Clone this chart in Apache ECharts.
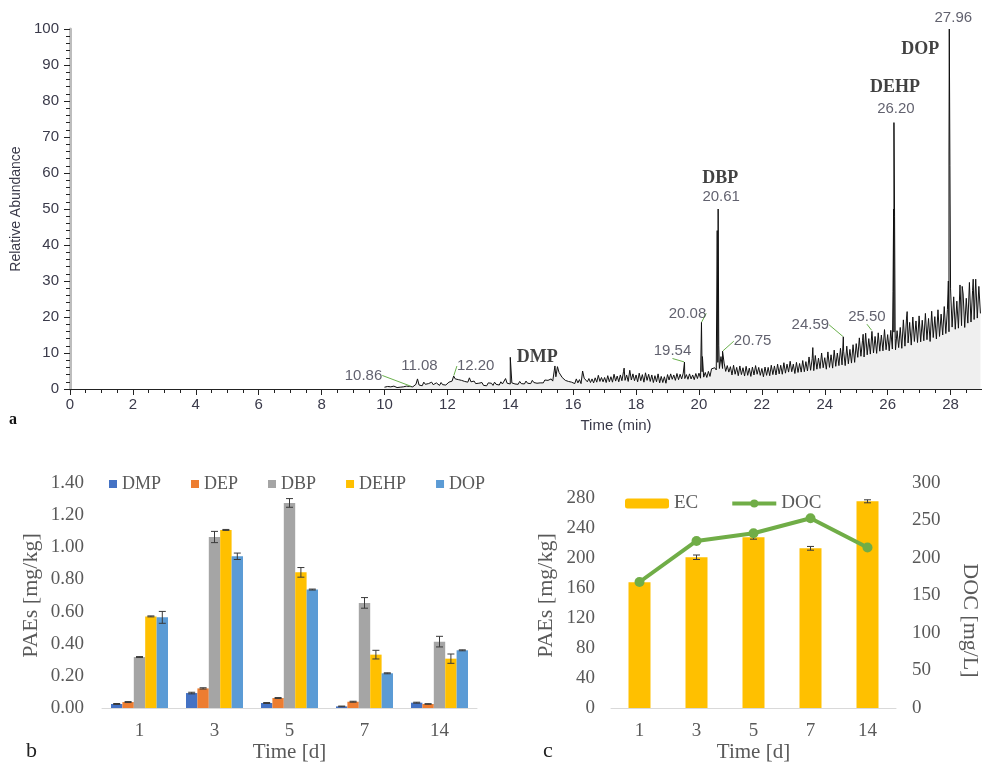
<!DOCTYPE html>
<html lang="en">
<head>
<meta charset="UTF-8">
<title>PAEs chromatogram and kinetics</title>
<script src="https://cdn.jsdelivr.net/npm/echarts@6/dist/echarts.min.js"></script>
<style>html,body{margin:0;padding:0;background:#fff;}</style>
</head>
<body>
<div id="main" style="width:982px;height:765px;"></div>
<script>
// ---- panel a : chromatogram, baseline read every 0.05 min from 10.00 min ----
var traceStart = 10
var traceStep = 0.05
var traceValues = [
  0.5,0.3,0.7,0.4,0.6,0.3,0.8,0.5,0.4,0.7,0.5,0.9,0.6,0.4,0.8,0.5,0.7,1.0,0.6,0.9,
  1.3,2.8,1.1,1.6,0.9,1.9,1.3,0.8,1.5,1.1,1.9,1.2,0.9,1.7,1.3,1.0,1.8,1.2,1.6,1.1,
  1.4,1.9,1.6,2.2,3.6,2.8,3.2,2.6,3.0,2.4,2.8,2.1,2.5,1.9,3.1,2.0,1.7,2.2,1.5,1.9,
  1.6,1.1,1.8,1.0,1.5,0.9,1.7,1.2,1.6,1.0,1.9,1.3,1.7,1.1,2.0,1.4,1.8,2.9,1.6,1.9,
  1.4,1.7,2.0,1.4,1.8,1.3,2.1,1.5,1.9,1.4,2.2,1.6,2.0,1.5,2.4,1.8,2.1,1.6,2.0,1.7,
  2.2,1.7,2.5,2.0,2.4,1.9,2.8,2.2,2.6,3.4,6.2,4.6,3.9,3.2,2.9,2.4,2.7,2.1,2.4,1.9,
  2.4,1.5,2.8,1.7,2.6,1.5,5.0,3.0,3.2,2.0,2.9,1.8,2.8,1.7,3.1,1.9,3.8,2.1,3.2,2.0,
  3.2,1.8,3.7,2.0,3.4,1.9,4.1,2.2,3.6,2.0,3.9,2.3,4.8,2.4,3.9,2.1,5.2,2.5,4.2,2.3,
  3.9,2.0,4.4,2.3,4.0,1.9,4.5,2.4,4.1,2.1,3.9,1.8,3.7,2.0,4.2,1.7,3.5,1.8,3.4,1.6,
  4.0,2.5,4.2,2.7,3.9,2.4,4.3,2.6,4.1,2.8,4.4,2.9,4.0,2.7,4.2,2.8,3.9,2.6,4.3,2.9,
  4.4,3.0,4.8,3.3,4.6,3.2,4.9,3.5,5.6,5.1,5.9,5.3,7.4,5.7,9.0,5.7,7.2,4.9,6.5,4.7,
  6.2,3.9,6.6,4.1,6.0,3.7,6.4,4.0,5.9,3.6,6.3,3.8,5.8,3.5,6.1,3.9,6.5,4.1,6.0,3.8,
  5.7,3.4,6.1,3.8,6.0,3.7,6.6,4.0,6.4,3.9,6.9,4.2,6.6,4.1,7.3,4.4,6.9,4.7,7.7,4.8,
  6.9,4.3,7.4,4.6,7.1,4.7,7.9,4.8,7.6,5.0,8.9,5.2,8.4,5.1,9.3,5.5,8.6,5.7,10.0,5.9,
  8.7,5.5,10.3,6.0,9.5,5.8,10.8,6.3,10.0,6.5,11.3,6.7,10.5,6.5,11.9,7.0,11.0,7.2,12.3,7.4,
  12.6,8.8,14.2,9.1,13.4,8.9,15.5,9.5,14.0,9.7,16.0,10.0,14.6,9.9,15.6,10.5,15.0,10.6,16.5,10.9,
  15.1,10.6,16.3,11.1,15.8,10.9,16.2,11.5,17.1,11.3,19.2,11.9,19.7,12.8,18.5,12.2,20.0,13.2,18.9,12.9,
  20.3,13.1,19.1,13.4,21.0,13.7,19.6,13.2,21.6,14.3,20.1,13.9,22.0,14.6,20.8,15.0,22.9,15.4,22.1,15.9,
  27.8,17.2,25.6,16.6,24.4,16.9,28.9,17.6,26.4,17.1,25.2,18.3,29.6,18.6,27.3,19.3,30.5,19.7,28.5,21.0
]
// sharp peaks [time, abundance]
var peaks = [
  [11.08, 3.0], [14.0, 8.8], [15.42, 6.4], [16.31, 5.2], [17.62, 5.8], [19.54, 7.5],
  [20.08, 18.5], [20.11, 9.0], [20.58, 44], [20.61, 50], [20.63, 12], [20.75, 10.5],
  [23.62, 11.5], [24.59, 14.5], [25.22, 15.2], [25.50, 16.2],
  [26.17, 27], [26.19, 50], [26.20, 74], [26.22, 48], [26.24, 14],
  [26.62, 21.5], [27.93, 30], [27.95, 65], [27.96, 100], [27.98, 62], [28.37, 28.5], [28.72, 30.5]
]
var peakText = ['10.86', '11.08', '12.20', '19.54', '20.08', '20.61', '20.75', '24.59', '25.50', '26.20', '27.96']
var peakTime = [10.86, 11.08, 12.20, 19.54, 20.08, 20.61, 20.75, 24.59, 25.50, 26.20, 27.96]
var peakHeight = [0.7, 3.0, 3.6, 7.5, 18.5, 50, 10.5, 14.5, 16.2, 74, 100]
var compounds = ['DMP', 'DBP', 'DEHP', 'DOP']
var compoundTime = [14.0, 20.61, 26.20, 27.96]
var compoundHeight = [8.8, 50, 74, 100]

// ---- panel b : PAEs in soil [mg/kg] ----
var days = ['1', '3', '5', '7', '14']
var paeNames = ['DMP', 'DEP', 'DBP', 'DEHP', 'DOP']
var DMP = [0.025, 0.093, 0.031, 0.010, 0.033]
var DEP = [0.037, 0.122, 0.062, 0.039, 0.025]
var DBP = [0.317, 1.064, 1.276, 0.654, 0.413]
var DEHP = [0.570, 1.108, 0.844, 0.332, 0.307]
var DOP = [0.564, 0.944, 0.737, 0.216, 0.359]
var errDMP = [0.003, 0.005, 0.003, 0.002, 0.003]
var errDEP = [0.003, 0.004, 0.003, 0.003, 0.002]
var errDBP = [0.003, 0.035, 0.027, 0.033, 0.033]
var errDEHP = [0.003, 0.003, 0.030, 0.027, 0.029]
var errDOP = [0.037, 0.020, 0.003, 0.003, 0.003]

// ---- panel c : EC and DOC ----
var EC = [167.6, 201.0, 227.6, 212.9, 275.6]
var errEC = [1.0, 3.0, 2.5, 2.5, 2.0]
var DOC = [168, 222.7, 233, 253, 214]

// label offsets (px) for the chromatogram annotations
var peakOffset = [[-48, -11], [1, -12], [22, -10], [-12, -11], [-14, -9], [3, -12], [30, -10], [-33, -12], [-5, -14], [2, -14], [4, -11]]
var peakGuide = [true, false, true, true, true, false, true, true, true, false, false]
var compoundOffset = [[27, 0], [2, -31], [1, -35], [-29, 20]]

var sans = 'Liberation Sans'
var serif = 'Liberation Serif'
var gray = '#595959'
var ink = '#3a3a4a'
var palette = ['#4472C4', '#ED7D31', '#A5A5A5', '#FFC000', '#5B9BD5']

var trace = []
traceValues.forEach(function (v, i) { trace.push([+(traceStart + i * traceStep).toFixed(2), v]) })
peaks.forEach(function (p) { trace.push(p) })
trace.sort(function (a, b) { return a[0] - b[0] })

var numberData = peakText.map(function (t, i) {
  return { name: t, value: [peakTime[i], peakHeight[i]], labelLine: { show: peakGuide[i] } }
})
var compoundData = compounds.map(function (t, i) {
  return { name: t, value: [compoundTime[i], compoundHeight[i]] }
})

// error bar drawer for grouped bars
function errorBars(k, count, gap, fixedWidth) {
  return function (params, api) {
    var cat = api.value(0), v = api.value(1), e = api.value(2)
    var band = api.size([1, 0])[0]
    var w = fixedWidth || band * (1 - gap) / count
    var x = api.coord([cat, v])[0] + (k - (count - 1) / 2) * w
    var hi = api.coord([cat, v + e])[1]
    var lo = api.coord([cat, v - e])[1]
    var cap = 3.5
    var st = { stroke: '#3a3a3a', lineWidth: 1 }
    return {
      type: 'group',
      children: [
        { type: 'line', shape: { x1: x, y1: hi, x2: x, y2: lo }, style: st },
        { type: 'line', shape: { x1: x - cap, y1: hi, x2: x + cap, y2: hi }, style: st },
        { type: 'line', shape: { x1: x - cap, y1: lo, x2: x + cap, y2: lo }, style: st }
      ]
    }
  }
}

var paeValues = [DMP, DEP, DBP, DEHP, DOP]
var paeErrors = [errDMP, errDEP, errDBP, errDEHP, errDOP]
var barGapRatio = 0.24

var series = [
  {
    name: 'trace', type: 'line', xAxisIndex: 0, yAxisIndex: 0,
    data: trace, showSymbol: false, symbol: 'none', sampling: null,
    lineStyle: { color: '#111', width: 1 },
    areaStyle: { color: '#efefef', opacity: 1 },
    silent: true, z: 3
  },
  {
    name: 'rt', type: 'scatter', xAxisIndex: 0, yAxisIndex: 0,
    data: numberData, symbolSize: 1, itemStyle: { color: 'transparent' },
    label: { show: true, position: 'inside', formatter: '{b}', fontFamily: sans, fontSize: 15, color: ink },
    labelLine: { show: true, lineStyle: { color: '#6ab04c', width: 1 } },
    labelLayout: function (p) { var o = peakOffset[p.dataIndex]; return { dx: o[0], dy: o[1], hideOverlap: false } },
    z: 5
  },
  {
    name: 'cmp', type: 'scatter', xAxisIndex: 0, yAxisIndex: 0,
    data: compoundData, symbolSize: 1, itemStyle: { color: 'transparent' },
    label: { show: true, position: 'inside', formatter: '{b}', fontFamily: serif, fontWeight: 'bold', fontSize: 18, color: '#111' },
    labelLayout: function (p) { var o = compoundOffset[p.dataIndex]; return { dx: o[0], dy: o[1] } },
    z: 5
  }
]

paeNames.forEach(function (n, k) {
  series.push({
    name: n, type: 'bar', xAxisIndex: 1, yAxisIndex: 1,
    data: paeValues[k], itemStyle: { color: palette[k] },
    barGap: '0%', barCategoryGap: (barGapRatio * 100) + '%'
  })
})
paeNames.forEach(function (n, k) {
  series.push({
    type: 'custom', xAxisIndex: 1, yAxisIndex: 1, z: 4,
    renderItem: errorBars(k, 5, barGapRatio),
    data: paeValues[k].map(function (v, i) { return [i, v, paeErrors[k][i]] })
  })
})

series.push({
  name: 'EC', type: 'bar', xAxisIndex: 2, yAxisIndex: 2,
  data: EC, barWidth: 22, itemStyle: { color: '#FFC000' }
})
series.push({
  type: 'custom', xAxisIndex: 2, yAxisIndex: 2, z: 4,
  renderItem: errorBars(0, 1, 0, 22),
  data: EC.map(function (v, i) { return [i, v, errEC[i]] })
})
series.push({
  name: 'DOC', type: 'line', xAxisIndex: 2, yAxisIndex: 3,
  data: DOC, symbol: 'circle', symbolSize: 10,
  lineStyle: { color: '#70AD47', width: 4 }, itemStyle: { color: '#70AD47' }, z: 6
})

var catAxisStyle = {
  type: 'category', data: days,
  axisLine: { lineStyle: { color: '#d9d9d9', width: 1 } },
  axisTick: { show: false },
  axisLabel: { fontFamily: serif, fontSize: 19, color: gray, margin: 14 },
  name: 'Time [d]', nameLocation: 'middle', nameGap: 33,
  nameTextStyle: { fontFamily: serif, fontSize: 21, color: gray }
}

var myChart = echarts.init(document.getElementById('main'))
var option = {
  backgroundColor: '#fff',
  animation: false,
  grid: [
    { left: 70, top: 29, width: 913.5, height: 360 },
    { left: 102, top: 483, width: 375, height: 225 },
    { left: 611, top: 483, width: 285, height: 225 }
  ],
  legend: [
    {
      data: paeNames, left: 109, top: 475, padding: 0, icon: 'rect', itemWidth: 8, itemHeight: 8, itemGap: 30,
      textStyle: { fontFamily: serif, fontSize: 18, color: gray }
    },
    {
      data: ['EC', 'DOC'], left: 625, top: 494, padding: 0, itemWidth: 44, itemHeight: 10, itemGap: 32,
      lineStyle: { width: 4 },
      textStyle: { fontFamily: serif, fontSize: 19, color: gray }
    }
  ],
  xAxis: [
    {
      gridIndex: 0, type: 'value', min: 0, max: 29, interval: 2,
      axisLine: { lineStyle: { color: '#222', width: 1 } },
      axisTick: { length: 6, lineStyle: { color: '#222' } },
      minorTick: { show: true, splitNumber: 4, length: 4, lineStyle: { color: '#222' } },
      splitLine: { show: false },
      axisLabel: { fontFamily: sans, fontSize: 15, color: ink, margin: 8, showMaxLabel: false },
      name: 'Time (min)', nameLocation: 'middle', nameGap: 29,
      nameTextStyle: { fontFamily: sans, fontSize: 15, color: ink, padding: [0, 0, 0, 180] }
    },
    Object.assign({ gridIndex: 1 }, catAxisStyle),
    Object.assign({ gridIndex: 2 }, catAxisStyle)
  ],
  yAxis: [
    {
      gridIndex: 0, type: 'value', min: 0, max: 100, interval: 10,
      axisLine: { show: true, lineStyle: { color: '#bdbdbd', width: 3 } },
      axisTick: { show: true, length: 6, lineStyle: { color: '#222' } },
      minorTick: { show: true, splitNumber: 5, length: 4, lineStyle: { color: '#222' } },
      splitLine: { show: false },
      axisLabel: { fontFamily: sans, fontSize: 15, color: ink, margin: 11 },
      name: 'Relative Abundance', nameLocation: 'middle', nameGap: 44,
      nameTextStyle: { fontFamily: sans, fontSize: 14, color: ink }
    },
    {
      gridIndex: 1, type: 'value', min: 0, max: 1.4, interval: 0.2,
      axisLine: { show: false }, axisTick: { show: false }, splitLine: { show: false },
      axisLabel: { fontFamily: serif, fontSize: 19, color: gray, margin: 18, formatter: function (v) { return v.toFixed(2) } },
      name: 'PAEs [mg/kg]', nameLocation: 'middle', nameGap: 60,
      nameTextStyle: { fontFamily: serif, fontSize: 22, color: gray }
    },
    {
      gridIndex: 2, type: 'value', min: 0, max: 300, interval: 40,
      axisLine: { show: false }, axisTick: { show: false }, splitLine: { show: false },
      axisLabel: { fontFamily: serif, fontSize: 19, color: gray, margin: 16, showMaxLabel: false },
      name: 'PAEs [mg/kg]', nameLocation: 'middle', nameGap: 54,
      nameTextStyle: { fontFamily: serif, fontSize: 22, color: gray }
    },
    {
      gridIndex: 2, type: 'value', position: 'right', min: 0, max: 300, interval: 50,
      axisLine: { show: false }, axisTick: { show: false }, splitLine: { show: false },
      axisLabel: { fontFamily: serif, fontSize: 19, color: gray, margin: 16 },
      name: 'DOC [mg/L]', nameLocation: 'middle', nameGap: 63, nameRotate: -90,
      nameTextStyle: { fontFamily: serif, fontSize: 22, color: gray, padding: [0, 0, 0, 50] }
    }
  ],
  graphic: [
    { type: 'text', left: 9, top: 412, style: { text: 'a', font: 'bold 16px "Liberation Serif"', fill: '#111' } },
    { type: 'text', left: 26, top: 740, style: { text: 'b', font: '22px "Liberation Serif"', fill: '#222' } },
    { type: 'text', left: 543, top: 740, style: { text: 'c', font: '22px "Liberation Serif"', fill: '#222' } }
  ],
  series: series
}
myChart.setOption(option)
</script>
</body>
</html>
